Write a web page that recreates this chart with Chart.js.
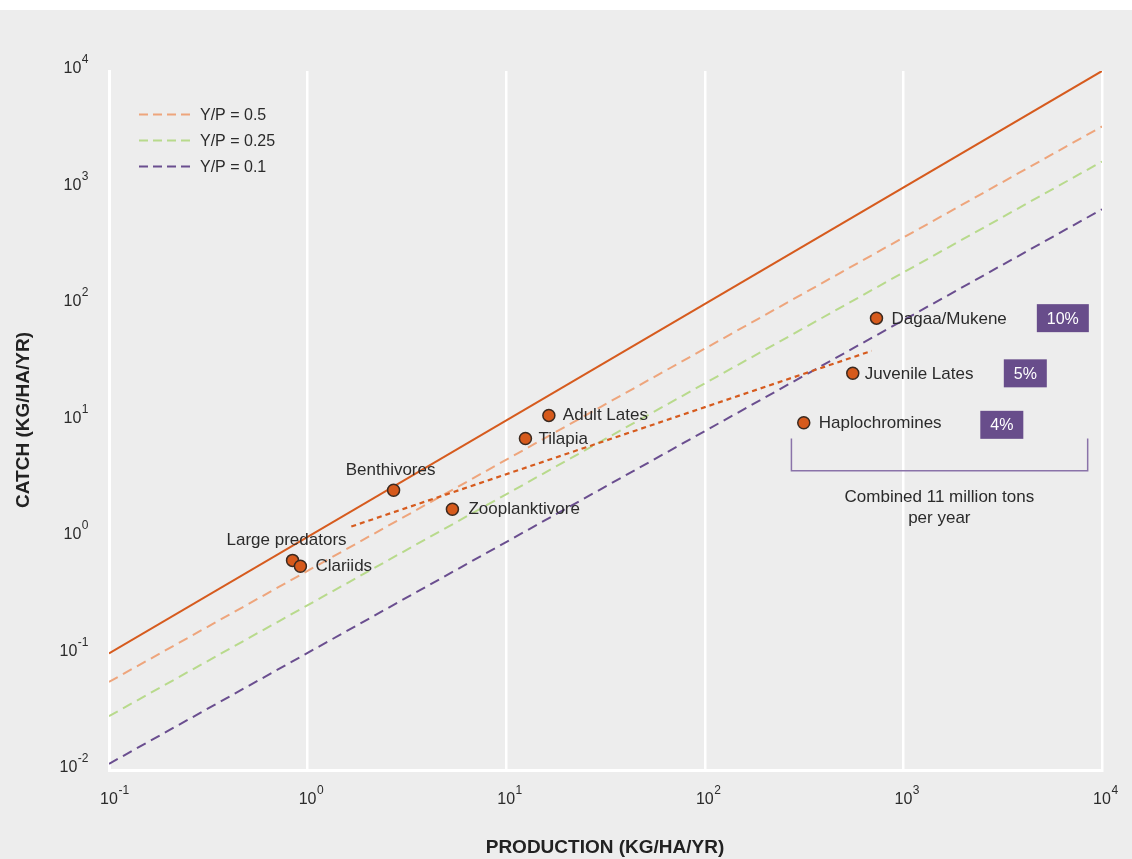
<!DOCTYPE html>
<html>
<head>
<meta charset="utf-8">
<script src="https://cdn.jsdelivr.net/npm/chart.js@4.4.1/dist/chart.umd.min.js"></script>
<style>
  html, body { margin: 0; padding: 0; background: #ffffff; }
  #wrap { width: 1132px; height: 859px; }
</style>
</head>
<body>
<div id="wrap"><canvas id="chart" width="1132" height="859"></canvas></div>
<script>
// species points (production vs catch, kg/ha/yr)
const speciesNames = ['Dagaa/Mukene', 'Juvenile Lates', 'Haplochromines', 'Adult Lates', 'Tilapia',
  'Benthivores', 'Zooplanktivore', 'Large predators', 'Clariids'];
const productionValues = [732, 556, 315, 16.4, 12.5, 2.71, 5.36, 0.84, 0.92];
const catchValues = [75.6, 25.4, 9.55, 11.06, 7.0, 2.52, 1.73, 0.63, 0.56];

// reference lines, read at both ends of the x range
const refLineX = [0.1, 10000];
const lineYP1 = [0.1, 10000];
const lineYP05 = [0.057, 3340];
const lineYP025 = [0.029, 1670];
const lineYP01 = [0.0113, 650];

// dotted trend line
const trendX = [1.66, 692];
const trendY = [1.23, 39.6];

// share boxes and the combined note
const shareLabels = ['10%', '5%', '4%'];
const shareSpecies = ['Dagaa/Mukene', 'Juvenile Lates', 'Haplochromines'];
const shareX = [6350, 4110, 3130];
const bracketX = [273, 8470];
const bracketY = [7.0, 3.7];
const noteLines = ['Combined 11 million tons', 'per year'];
const noteX = 1517;
const noteY = 2.18;

const xTicks = [0.1, 1, 10, 100, 1000, 10000];
const yTicks = [0.01, 0.1, 1, 10, 100, 1000, 10000];

const legendLabels = ['Y/P = 0.5', 'Y/P = 0.25', 'Y/P = 0.1'];

const C_SOLID = '#d65b1e';
const C_HALF = '#eea57c';
const C_QUARTER = '#b8da8c';
const C_TENTH = '#6a4e8f';
const C_BOX = '#684d8b';
const C_BRACKET = '#8a73a9';
const C_TEXT = '#2b2b2b';
const FONT = '"Liberation Sans", Arial, Helvetica, sans-serif';

// label placement next to each point (dx, dy, align)
const labelPos = {
  'Dagaa/Mukene':    [15, 1, 'left'],
  'Juvenile Lates':  [12, 1, 'left'],
  'Haplochromines':  [15, 0, 'left'],
  'Adult Lates':     [14, 0, 'left'],
  'Tilapia':         [13, 1, 'left'],
  'Benthivores':     [-3, -20, 'center'],
  'Zooplanktivore':  [16, 0, 'left'],
  'Large predators': [-6, -20, 'center'],
  'Clariids':        [15, 0, 'left']
};

function pairs(xs, ys) {
  return xs.map((x, i) => ({ x: x, y: ys[i] }));
}

function lineSet(data, color, dash, width) {
  return {
    type: 'line', data: data, borderColor: color, borderWidth: width,
    borderDash: dash, pointRadius: 0, fill: false, tension: 0
  };
}

function drawPow(ctx, value, x, y, mode) {
  const exp = String(Math.round(Math.log10(value)));
  ctx.font = '16px ' + FONT;
  const wBase = ctx.measureText('10').width;
  ctx.font = '12px ' + FONT;
  const wExp = ctx.measureText(exp).width;
  let left;
  if (mode === 'right') left = x - wBase - wExp;
  else left = x - wBase / 2;
  ctx.fillStyle = C_TEXT;
  ctx.textAlign = 'left';
  ctx.textBaseline = 'middle';
  ctx.font = '16px ' + FONT;
  ctx.fillText('10', left, y);
  ctx.font = '12px ' + FONT;
  ctx.fillText(exp, left + wBase + 0.5, y - 9);
}

const decorPlugin = {
  id: 'decor',
  beforeDraw(chart) {
    const ctx = chart.ctx;
    ctx.save();
    ctx.fillStyle = '#ffffff';
    ctx.fillRect(0, 0, chart.width, chart.height);
    ctx.fillStyle = '#ededed';
    ctx.fillRect(0, 10, chart.width, chart.height - 10);
    ctx.restore();
  },
  afterDatasetsDraw(chart) {
    const ctx = chart.ctx;
    const xs = chart.scales.x, ys = chart.scales.y;
    ctx.save();

    // tick labels
    xTicks.forEach(v => drawPow(ctx, v, xs.getPixelForValue(v), 800, 'center'));
    yTicks.forEach(v => drawPow(ctx, v, 88, ys.getPixelForValue(v) - 2, 'right'));

    // axis titles
    ctx.fillStyle = '#222222';
    ctx.font = 'bold 19px ' + FONT;
    ctx.textAlign = 'center';
    ctx.textBaseline = 'middle';
    ctx.fillText('PRODUCTION (KG/HA/YR)', 605, 848);
    ctx.save();
    ctx.translate(24, 420);
    ctx.rotate(-Math.PI / 2);
    ctx.fillText('CATCH (KG/HA/YR)', 0, 0);
    ctx.restore();

    // legend
    const legendColors = [C_HALF, C_QUARTER, C_TENTH];
    legendLabels.forEach((t, i) => {
      const y = 114.5 + i * 26;
      ctx.strokeStyle = legendColors[i];
      ctx.lineWidth = 2;
      ctx.setLineDash([9, 5]);
      ctx.beginPath();
      ctx.moveTo(139, y);
      ctx.lineTo(192, y);
      ctx.stroke();
      ctx.setLineDash([]);
      ctx.fillStyle = C_TEXT;
      ctx.font = '16px ' + FONT;
      ctx.textAlign = 'left';
      ctx.textBaseline = 'middle';
      ctx.fillText(t, 200, y + 1);
    });

    // point labels
    ctx.font = '17px ' + FONT;
    ctx.fillStyle = C_TEXT;
    ctx.textBaseline = 'middle';
    speciesNames.forEach((name, i) => {
      const px = xs.getPixelForValue(productionValues[i]);
      const py = ys.getPixelForValue(catchValues[i]);
      const p = labelPos[name];
      ctx.textAlign = p[2];
      ctx.fillText(name, px + p[0], py + p[1]);
    });

    // share boxes
    shareLabels.forEach((t, i) => {
      const idx = speciesNames.indexOf(shareSpecies[i]);
      const cx = xs.getPixelForValue(shareX[i]);
      const cy = ys.getPixelForValue(catchValues[idx]) + (i === 2 ? 2 : 0);
      const w = t.length > 2 ? 52 : 43;
      ctx.fillStyle = C_BOX;
      ctx.fillRect(cx - w / 2, cy - 14, w, 28);
      ctx.fillStyle = '#ffffff';
      ctx.font = '16px ' + FONT;
      ctx.textAlign = 'center';
      ctx.fillText(t, cx, cy + 1);
    });

    // bracket
    const bx0 = xs.getPixelForValue(bracketX[0]), bx1 = xs.getPixelForValue(bracketX[1]);
    const by0 = ys.getPixelForValue(bracketY[0]), by1 = ys.getPixelForValue(bracketY[1]);
    ctx.strokeStyle = C_BRACKET;
    ctx.lineWidth = 1.5;
    ctx.beginPath();
    ctx.moveTo(bx0, by0);
    ctx.lineTo(bx0, by1);
    ctx.lineTo(bx1, by1);
    ctx.lineTo(bx1, by0);
    ctx.stroke();

    // note text
    ctx.fillStyle = C_TEXT;
    ctx.font = '17px ' + FONT;
    ctx.textAlign = 'center';
    const nx = xs.getPixelForValue(noteX), ny = ys.getPixelForValue(noteY);
    noteLines.forEach((t, i) => ctx.fillText(t, nx, ny + i * 21));

    ctx.restore();
  }
};

new Chart(document.getElementById('chart'), {
  type: 'scatter',
  data: {
    datasets: [
      {
        type: 'scatter',
        data: pairs(productionValues, catchValues),
        backgroundColor: '#d65a1c',
        borderColor: '#3b2a20',
        borderWidth: 1.5,
        pointRadius: 6
      },
      lineSet(pairs(trendX, trendY), C_SOLID, [5, 4], 2.2),
      lineSet(pairs(refLineX, lineYP1), C_SOLID, [], 2),
      lineSet(pairs(refLineX, lineYP05), C_HALF, [10, 6], 2),
      lineSet(pairs(refLineX, lineYP025), C_QUARTER, [10, 6], 2),
      lineSet(pairs(refLineX, lineYP01), C_TENTH, [10, 6], 2)
    ]
  },
  options: {
    responsive: false,
    animation: false,
    events: [],
    layout: { padding: { left: 109, right: 30, top: 71, bottom: 89 } },
    plugins: { legend: { display: false }, tooltip: { enabled: false } },
    scales: {
      x: {
        type: 'logarithmic',
        min: 0.1, max: 10000,
        afterBuildTicks: s => { s.ticks = xTicks.map(v => ({ value: v })); },
        ticks: { display: false },
        grid: { display: true, color: '#ffffff', lineWidth: 2.5, drawTicks: false },
        border: { display: true, color: '#ffffff', width: 3 }
      },
      y: {
        type: 'logarithmic',
        min: 0.01, max: 10000,
        afterBuildTicks: s => { s.ticks = yTicks.map(v => ({ value: v })); },
        ticks: { display: false },
        grid: { display: false, drawTicks: false },
        border: { display: true, color: '#ffffff', width: 3 }
      }
    }
  },
  plugins: [decorPlugin]
});
</script>
</body>
</html>
